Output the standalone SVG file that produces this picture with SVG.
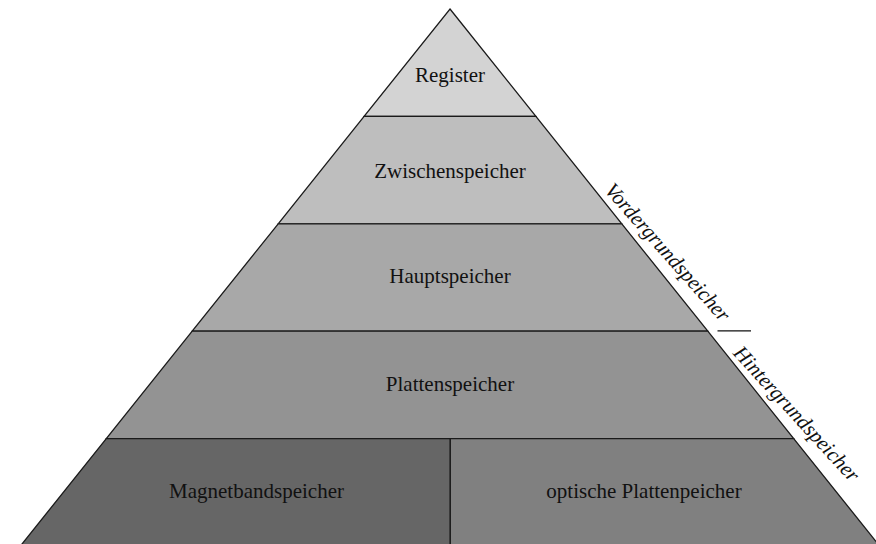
<svg xmlns="http://www.w3.org/2000/svg" width="876" height="544" viewBox="0 0 876 544">
<style>
.band{stroke:#1a1a1a;stroke-width:1.3;stroke-linejoin:miter}
.lbl{font-family:"Liberation Serif","Times New Roman",serif;font-size:21px;fill:#111;text-anchor:middle}
.side{font-family:"Liberation Serif","Times New Roman",serif;font-size:21px;font-style:italic;fill:#111;text-anchor:middle}
</style>
<rect width="876" height="544" fill="#fff"/>
<g id="register"><polygon class="band" fill="#d3d3d3" points="450,9 535.9,116.4 364.1,116.4"/><text class="lbl" x="450" y="81.7">Register</text></g>
<g id="zwischenspeicher"><polygon class="band" fill="#bebebe" points="364.1,116.4 535.9,116.4 621.8,223.8 278.2,223.8"/><text class="lbl" x="450" y="177.7">Zwischenspeicher</text></g>
<g id="hauptspeicher"><polygon class="band" fill="#a8a8a8" points="278.2,223.8 621.8,223.8 707.8,331.2 192.2,331.2"/><text class="lbl" x="450" y="283.3">Hauptspeicher</text></g>
<g id="plattenspeicher"><polygon class="band" fill="#939393" points="192.2,331.2 707.8,331.2 793.7,438.6 106.3,438.6"/><text class="lbl" x="450" y="391">Plattenspeicher</text></g>
<g id="magnetbandspeicher"><polygon class="band" fill="#666666" points="106.3,438.6 450.3,438.6 450.3,546 20.4,546"/><text class="lbl" x="256.5" y="498.3">Magnetbandspeicher</text></g>
<g id="optische"><polygon class="band" fill="#808080" points="450.3,438.6 793.7,438.6 879.6,546 450.3,546"/><text class="lbl" x="644" y="498.3">optische Plattenpeicher</text></g>
<g id="connectors">
<line x1="717.5" y1="330.8" x2="751" y2="330.8" stroke="#111" stroke-width="1.2"/>
</g>
<g id="vordergrund"><text class="side" transform="translate(662.5,256.8) rotate(48.4)">Vordergrundspeicher</text></g>
<g id="hintergrund"><text class="side" transform="translate(791.5,418.5) rotate(47.5)">Hintergrundspeicher</text></g>
</svg>
